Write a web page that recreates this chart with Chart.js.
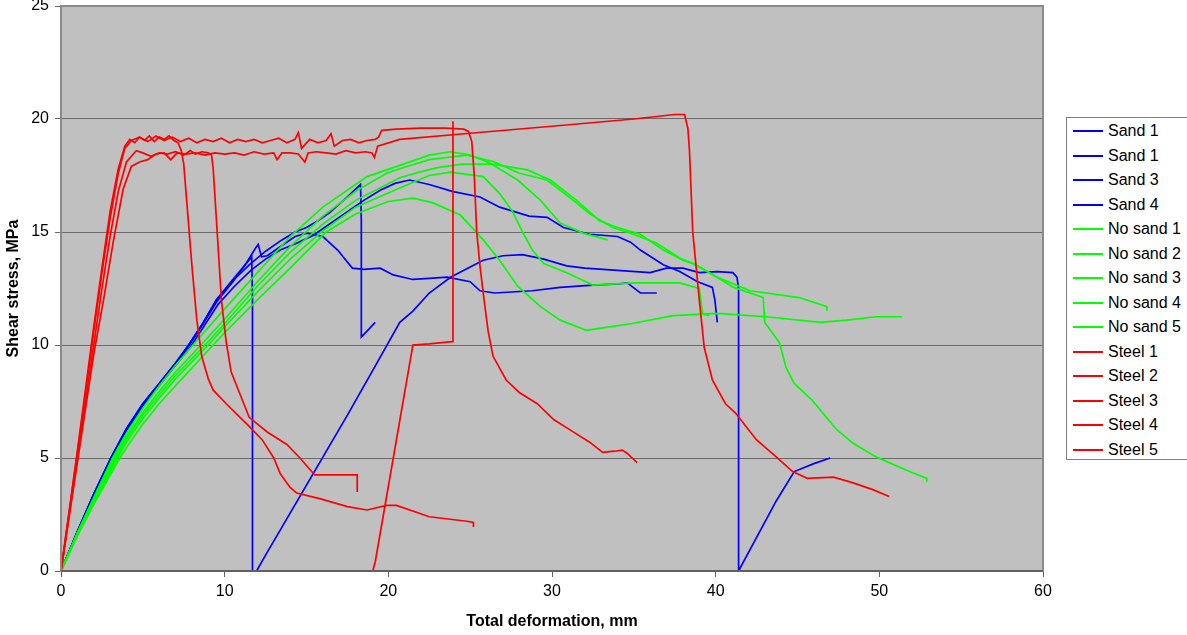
<!DOCTYPE html>
<html>
<head>
<meta charset="utf-8">
<script src="https://cdn.jsdelivr.net/npm/chart.js@4/dist/chart.umd.min.js"></script>
<style>
    body { margin: 0; background: #fff; }
    #wrap { position: relative; width: 1187px; height: 635px; }
    #legend {
        position: absolute; left: 1066px; top: 117px; width: 140px; height: 343px;
        border: 1px solid #808080; background: #fff; box-sizing: border-box; padding-top: 1px;
        font: 16px "Liberation Sans", Arial, sans-serif; color: #000;
    }
    .item { height: 24.5px; display: flex; align-items: center; }
    .swatch { width: 30px; height: 2px; margin-left: 6px; margin-right: 5px; }
</style>
</head>
<body>
<div id="wrap">
    <canvas id="chart" width="1187" height="635"></canvas>
    <div id="legend"></div>
</div>
<script>
// Sand series
var sand1aX = [0, 1, 2, 3.05, 4, 5, 6, 7, 7.8, 8.7, 9.5, 10.5, 11.2, 11.65, 11.7, 11.7, 11.95, 12.5, 15, 17.5, 19.3, 20.7, 21.5, 22.5, 23.8, 25, 25.8, 27, 28.2, 29.5, 30.9, 32, 34, 36, 37, 38, 39, 40.1, 41.05, 41.3, 41.4, 41.4, 43.7, 44.8, 46, 47];
var sand1aY = [0, 1.75, 3.4, 5, 6.3, 7.4, 8.3, 9.2, 10, 11, 12, 12.9, 13.5, 13.9, 12, 0, 0, 0.7, 3.8, 6.9, 9.2, 11.0, 11.5, 12.3, 13.0, 13.45, 13.75, 13.95, 14.0, 13.8, 13.5, 13.4, 13.3, 13.2, 13.4, 13.4, 13.2, 13.25, 13.2, 13.0, 12.5, 0, 3.1, 4.4, 4.75, 5.0];
var sand1bX = [0, 1, 2, 3.05, 4, 5, 6, 7, 7.8, 8.7, 9.5, 10.5, 11.3, 11.9, 12.05, 12.25, 12.6, 13.5, 14.3, 15, 16, 16.9, 17.8, 18.5, 19.5, 20.3, 21.5, 22.5, 23.6, 25, 25.6, 26.5, 28.8, 30.5, 32.5, 34, 34.6, 35.4, 36.4];
var sand1bY = [0, 1.72, 3.37, 4.95, 6.25, 7.35, 8.25, 9.15, 9.95, 10.95, 11.9, 12.8, 13.6, 14.3, 14.45, 13.9, 13.95, 14.4, 14.8, 14.95, 14.8, 14.2, 13.4, 13.35, 13.4, 13.1, 12.9, 12.95, 13.0, 12.8, 12.4, 12.3, 12.4, 12.55, 12.65, 12.7, 12.75, 12.3, 12.3];
var sand3X = [0, 1, 2, 3.05, 4, 5, 6, 7, 7.8, 8.7, 9.5, 10.5, 11.5, 12.5, 13.5, 14.3, 15, 15.7, 16.4, 17.5, 18.3, 18.35, 18.35, 19.2];
var sand3Y = [0, 1.75, 3.4, 5, 6.3, 7.4, 8.3, 9.2, 10, 11, 12, 12.85, 13.55, 14.15, 14.65, 15.0, 15.2, 15.5, 15.85, 16.55, 17.1, 15.5, 10.35, 11.0];
var sand4X = [0, 1, 2, 3.1, 4, 5, 6, 7, 7.9, 8.8, 9.6, 10.6, 11.6, 12.5, 13.4, 14.4, 15.4, 16.5, 17.5, 18.5, 19.5, 20.4, 21.3, 22.5, 23.9, 25.6, 26.8, 28.6, 29.7, 30.7, 32.3, 34, 34.8, 35.4, 36.8, 37.8, 38.9, 39.8, 39.95, 40.1];
var sand4Y = [0, 1.7, 3.35, 5, 6.2, 7.3, 8.2, 9.1, 9.9, 10.9, 11.8, 12.6, 13.3, 13.8, 14.2, 14.5, 14.85, 15.4, 15.9, 16.4, 16.85, 17.15, 17.3, 17.1, 16.8, 16.55, 16.1, 15.7, 15.65, 15.2, 14.9, 14.8, 14.55, 14.2, 13.55, 13.25, 12.8, 12.55, 12.0, 11.0];

// No sand series
var ns1X = [0, 1, 2, 3.15, 4, 5, 6, 7, 8.3, 10, 12, 14, 16, 18.7, 20.7, 22.5, 23.8, 25, 26.2, 27.9, 29.3, 30.5, 31.9, 33.4];
var ns1Y = [0, 1.7, 3.25, 5, 6.1, 7.2, 8.2, 9.1, 10.2, 11.6, 13.2, 14.8, 16.1, 17.45, 17.95, 18.4, 18.55, 18.4, 18.05, 17.3, 16.4, 15.4, 14.95, 14.65];
var ns2X = [0, 1, 2, 3.25, 4, 5, 6, 7, 8.55, 10, 12, 14, 16, 18, 19.9, 20.7, 22.5, 24.8, 26.5, 28, 29.7, 31.3, 32.3, 33.7, 34.8, 36.4, 37.8, 38.8, 40.3, 41.1, 42.5, 42.9, 43.0, 43.9, 44.3, 44.8, 45.9, 47.4, 48.4, 49.8, 51.7, 52.9, 52.9];
var ns2Y = [0, 1.66, 3.17, 5, 5.95, 7.0, 7.95, 8.8, 10, 11.15, 12.8, 14.35, 15.7, 16.8, 17.6, 17.8, 18.2, 18.4, 18.1, 17.6, 17.3, 16.4, 15.8, 15.2, 14.95, 14.5, 13.85, 13.55, 12.9, 12.55, 12.2, 12.1, 11.0, 10.1, 9.0, 8.3, 7.55, 6.25, 5.65, 5.05, 4.45, 4.1, 3.95];
var ns3X = [0, 1, 2, 3.35, 4, 5, 6, 7, 8.8, 10, 12, 14, 16, 18, 20.7, 21.9, 23, 24.5, 26.4, 28.5, 29.9, 31.5, 32.9, 34, 35.4, 36.8, 38, 38.6, 40.1, 42.1, 45.1, 46.8, 46.8];
var ns3Y = [0, 1.63, 3.08, 5, 5.85, 6.9, 7.8, 8.65, 10, 10.95, 12.6, 14.1, 15.35, 16.4, 17.4, 17.65, 17.85, 18.0, 18.0, 17.75, 17.3, 16.4, 15.5, 15.2, 14.9, 14.2, 13.75, 13.6, 13.0, 12.4, 12.1, 11.7, 11.5];
var ns4X = [0, 1, 2, 3.45, 4, 5, 6, 7, 9.0, 10, 12, 14, 16, 18, 20.7, 22.5, 23.8, 25.8, 26.8, 27.6, 28.2, 28.8, 29.5, 30.9, 32.5, 35, 37.8, 39.0, 39.2, 39.6];
var ns4Y = [0, 1.6, 3.03, 5, 5.7, 6.75, 7.65, 8.5, 10, 10.8, 12.35, 13.8, 15.05, 16.1, 16.95, 17.5, 17.65, 17.45, 16.7, 15.9, 15.0, 14.2, 13.6, 13.2, 12.65, 12.75, 12.75, 12.5, 11.4, 11.3];
var ns5X = [0, 1, 2, 3.6, 4, 5, 6, 7, 9.3, 10, 12, 14, 16.2, 18, 20, 21.5, 22.7, 24.4, 25.8, 26.8, 27.9, 29.3, 30.5, 32.1, 33.5, 34.9, 37.4, 40.1, 43.1, 46.4, 48, 49.8, 51.4];
var ns5Y = [0, 1.55, 2.95, 5, 5.45, 6.5, 7.4, 8.2, 10, 10.55, 12.0, 13.4, 15.0, 15.8, 16.35, 16.5, 16.3, 15.75, 14.65, 13.75, 12.6, 11.7, 11.1, 10.65, 10.8, 10.95, 11.3, 11.4, 11.25, 11.0, 11.1, 11.25, 11.25];

// Steel series
var st1X = [0, 1, 2, 2.5, 3, 3.5, 3.9, 4.2, 4.5, 4.8, 5.1, 5.4, 5.7, 6.0, 6.3, 6.6, 6.9, 7.15, 7.35, 7.5, 7.7, 8.0, 8.3, 8.6, 9.0, 9.3, 10.1, 10.8, 11.5, 12.3, 13.0, 13.4, 14.0, 14.4, 15.8, 17.5, 18.7, 19.9, 20.5, 22.5, 24.8, 25.2, 25.2];
var st1Y = [0, 5.3, 10.8, 13.4, 15.9, 17.8, 18.8, 19.1, 18.95, 19.2, 19.05, 19.25, 19.0, 19.2, 19.1, 19.25, 19.05, 18.95, 18.6, 18.0, 16.2, 13.5, 11.1, 9.5, 8.5, 8.0, 7.4, 6.9, 6.4, 5.8, 5.0, 4.3, 3.7, 3.45, 3.2, 2.85, 2.7, 2.9, 2.9, 2.4, 2.2, 2.15, 1.95];
var st2X = [0, 1, 2, 2.5, 3, 3.5, 4.0, 4.6, 5.0, 5.5, 6.0, 6.5, 7.0, 7.5, 7.9, 8.2, 8.6, 9.0, 9.2, 9.3, 9.5, 9.8, 10.1, 10.4, 11.5, 12.6, 13.8, 14.6, 15.5, 18.1, 18.1];
var st2Y = [0, 5.0, 10.0, 12.5, 14.8, 16.8, 18.1, 18.6, 18.5, 18.35, 18.5, 18.45, 18.55, 18.4, 18.6, 18.45, 18.55, 18.5, 18.4, 17.8, 15.5, 12.0, 10.1, 8.8, 6.8, 6.15, 5.6, 5.0, 4.25, 4.25, 3.5];
var st3X = [0, 1, 2, 2.5, 3, 3.5, 3.9, 4.3, 4.8, 5.3, 5.8, 6.3, 6.8, 7.3, 7.8, 8.3, 8.8, 9.3, 9.8, 10.3, 10.8, 11.3, 11.8, 12.3, 12.8, 13.3, 13.8, 14.3, 14.5, 14.7, 15.2, 15.7, 16.2, 16.5, 16.7, 17.2, 17.7, 18.2, 18.7, 19.2, 19.4, 19.6, 20.5, 22, 23.5, 24.6, 24.9, 25.1, 25.25, 25.4, 25.6, 25.85, 26.1, 26.4, 27.2, 28.0, 29.1, 30.1, 31.2, 32.3, 33.1, 33.8, 34.3, 34.6, 35.2];
var st3Y = [0, 5.2, 10.6, 13.2, 15.6, 17.6, 18.7, 19.05, 19.2, 19.0, 19.25, 19.05, 19.2, 19.0, 19.15, 18.95, 19.1, 19.0, 19.15, 18.95, 19.1, 19.0, 19.1, 18.95, 19.05, 19.15, 18.95, 19.1, 19.4, 18.7, 19.1, 18.95, 19.05, 19.35, 18.8, 19.05, 19.1, 18.95, 19.05, 19.1, 19.2, 19.5, 19.55, 19.6, 19.6, 19.55, 19.45, 19.0, 17.5, 15.0, 13.5, 12.0, 10.6, 9.5, 8.45, 7.9, 7.4, 6.7, 6.2, 5.7, 5.25, 5.3, 5.35, 5.2, 4.8];
var st4X = [0, 1, 2, 2.6, 3.2, 3.8, 4.3, 4.8, 5.3, 5.8, 6.3, 6.7, 7.1, 7.6, 8.2, 8.8, 9.4, 10, 10.6, 11.2, 11.8, 12.4, 13.0, 13.2, 13.5, 14.0, 14.5, 14.9, 15.1, 15.6, 16.2, 16.8, 17.4, 18.0, 18.6, 19.0, 19.15, 19.35, 20.7, 25, 30, 35, 37.5, 38.1, 38.3, 38.4, 38.6, 39.0, 39.3, 39.8, 40.6, 41.2, 42.5, 43.7, 44.7, 45.6, 47.2, 48.4, 49.6, 50.6];
var st4Y = [0, 4.8, 9.6, 12.0, 14.6, 16.9, 17.9, 18.1, 18.2, 18.45, 18.5, 18.2, 18.5, 18.45, 18.5, 18.4, 18.5, 18.45, 18.5, 18.4, 18.55, 18.45, 18.5, 18.2, 18.5, 18.5, 18.45, 18.1, 18.5, 18.55, 18.5, 18.45, 18.6, 18.5, 18.55, 18.5, 18.3, 18.8, 19.1, 19.37, 19.68, 20.0, 20.2, 20.2, 19.6, 18.6, 15.0, 12.0, 9.9, 8.45, 7.4, 7.0, 5.8, 5.05, 4.4, 4.1, 4.15, 3.9, 3.6, 3.3];
var st5X = [19.05, 19.2, 21.5, 22.5, 23.9, 23.95];
var st5Y = [0, 0.4, 10.0, 10.05, 10.15, 19.9];

var seriesNames = ['Sand 1', 'Sand 1', 'Sand 3', 'Sand 4', 'No sand 1', 'No sand 2', 'No sand 3', 'No sand 4', 'No sand 5', 'Steel 1', 'Steel 2', 'Steel 3', 'Steel 4', 'Steel 5'];
var seriesX = [sand1aX, sand1bX, sand3X, sand4X, ns1X, ns2X, ns3X, ns4X, ns5X, st1X, st2X, st3X, st4X, st5X];
var seriesY = [sand1aY, sand1bY, sand3Y, sand4Y, ns1Y, ns2Y, ns3Y, ns4Y, ns5Y, st1Y, st2Y, st3Y, st4Y, st5Y];
var seriesColors = ['#0000FF', '#0000FF', '#0000FF', '#0000FF', '#00FF00', '#00FF00', '#00FF00', '#00FF00', '#00FF00', '#FF0000', '#FF0000', '#FF0000', '#FF0000', '#FF0000'];

var xTicks = [0, 10, 20, 30, 40, 50, 60];
var yTicks = [0, 5, 10, 15, 20, 25];

Chart.defaults.font.family = '"Liberation Sans", Arial, sans-serif';
Chart.defaults.color = '#000';

// gray plot area and frame
var plotBackground = {
    id: 'plotBackground',
    beforeDraw: function(chart) {
        var a = chart.chartArea, ctx = chart.ctx;
        ctx.save();
        ctx.fillStyle = '#C0C0C0';
        ctx.fillRect(a.left, a.top, a.right - a.left, a.bottom - a.top);
        ctx.restore();
    },
    afterDraw: function(chart) {
        var a = chart.chartArea, ctx = chart.ctx;
        ctx.save();
        ctx.strokeStyle = '#8a8a8a';
        ctx.lineWidth = 2;
        ctx.strokeRect(a.left, a.top, a.right - a.left, a.bottom - a.top);
        ctx.strokeStyle = '#606060';
        ctx.beginPath();
        ctx.moveTo(a.left, a.bottom);
        ctx.lineTo(a.right, a.bottom);
        ctx.stroke();
        ctx.restore();
    }
};

var datasets = [];
for (var i = 0; i < seriesNames.length; i++) {
    var pts = [];
    for (var j = 0; j < seriesX[i].length; j++) {
        pts.push({x: seriesX[i][j], y: seriesY[i][j]});
    }
    datasets.push({
        label: seriesNames[i],
        data: pts,
        showLine: true,
        borderColor: seriesColors[i],
        backgroundColor: seriesColors[i],
        borderWidth: 1.7,
        pointRadius: 0,
        tension: 0,
        order: -i
    });
}

new Chart(document.getElementById('chart'), {
    type: 'scatter',
    data: { datasets: datasets },
    options: {
        responsive: false,
        animation: false,
        layout: { autoPadding: false, padding: { left: 0, right: 144, top: 6, bottom: 0 } },
        plugins: { legend: { display: false }, tooltip: { enabled: false } },
        scales: {
            x: {
                type: 'linear', min: 0, max: 60,
                afterBuildTicks: function(s) { s.ticks = xTicks.map(function(v) { return {value: v}; }); },
                ticks: { font: { size: 16 }, padding: 5, maxRotation: 0 },
                grid: { drawOnChartArea: false, drawTicks: true, tickLength: 6, color: '#606060' },
                border: { display: false },
                title: { display: true, text: 'Total deformation, mm', font: { size: 16, weight: 'bold' }, padding: { top: 4, bottom: 4 } },
                afterFit: function(s) { s.height = 64; s.paddingLeft = 0; s.paddingRight = 0; }
            },
            y: {
                type: 'linear', min: 0, max: 25,
                afterBuildTicks: function(s) { s.ticks = yTicks.map(function(v) { return {value: v}; }); },
                ticks: { font: { size: 16 }, padding: 6 },
                grid: { color: '#6a6a6a', lineWidth: 1, tickLength: 6 },
                border: { display: false },
                title: { display: true, text: 'Shear stress, MPa', font: { size: 16, weight: 'bold' }, padding: { top: 4, bottom: 4 } },
                afterFit: function(s) { s.width = 61; s.paddingTop = 0; s.paddingBottom = 0; }
            }
        }
    },
    plugins: [plotBackground]
});

// legend
var legend = document.getElementById('legend');
for (var k = 0; k < seriesNames.length; k++) {
    var row = document.createElement('div');
    row.className = 'item';
    var sw = document.createElement('span');
    sw.className = 'swatch';
    sw.style.background = seriesColors[k];
    row.appendChild(sw);
    row.appendChild(document.createTextNode(seriesNames[k]));
    legend.appendChild(row);
}
</script>
</body>
</html>
